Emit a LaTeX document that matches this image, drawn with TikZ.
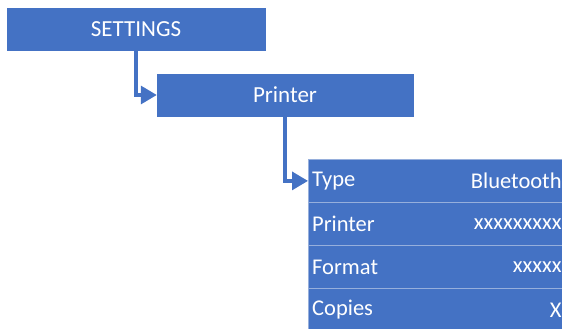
\documentclass[tikz,border=0pt]{standalone}
\usepackage{fontspec}
\setmainfont{Carlito}
\usepackage{tikz}
\usetikzlibrary{arrows.meta}

\definecolor{menublue}{RGB}{68,114,196}
\definecolor{rowline}{RGB}{150,175,220}

\tikzset{
	menubox/.style={fill=menublue, draw=menublue, minimum width=258pt, minimum height=42pt, inner sep=0pt, text=white, font=\fontsize{23}{27}\selectfont},
	rowbox/.style={fill=menublue, draw=rowline, line width=0.8pt, minimum width=256pt, minimum height=43pt, inner sep=0pt, anchor=north west},
	rowtext/.style={text=white, inner sep=0pt, font=\fontsize{22.5}{26}\selectfont},
	link/.style={draw=menublue, line width=3.2pt, -{Triangle[length=16pt,width=18pt]}}
}

\begin{document}
\begin{tikzpicture}[x=1pt, y=-1pt]
	\useasboundingbox (0,0) rectangle (562,329);

	\begin{scope}
		\node[menubox] (settings) at (136,29) {SETTINGS};
		\node[menubox, minimum width=256pt] (printer) at (285,95) {Printer};
	\end{scope}

	\begin{scope}
		\node[rowbox] (type) at (308,159) {};
		\node[rowbox] (device) at (308,202) {};
		\node[rowbox] (format) at (308,245) {};
		\node[rowbox] (copies) at (308,288) {};
	\end{scope}

	% keys on the left, values on the right
	\begin{scope}
		\node[rowtext, anchor=west] (typekey) at ([xshift=4pt]type.west) {Type};
		\node[rowtext, anchor=east] (typeval) at ([xshift=-3pt]type.east) {Bluetooth};
		\node[rowtext, anchor=west] (devicekey) at ([xshift=4pt]device.west) {Printer};
		\node[rowtext, anchor=east] (deviceval) at ([xshift=-3pt]device.east) {xxxxxxxxx};
		\node[rowtext, anchor=west] (formatkey) at ([xshift=4pt]format.west) {Format};
		\node[rowtext, anchor=east] (formatval) at ([xshift=-3pt]format.east) {xxxxx};
		\node[rowtext, anchor=west] (copieskey) at ([xshift=4pt]copies.west) {Copies};
		\node[rowtext, anchor=east] (copiesval) at ([xshift=-3pt]copies.east) {X};
	\end{scope}

	\begin{scope}
		\draw[link] (settings.south) |- (printer.west);
		\draw[link] (printer.south) |- (type.west);
	\end{scope}
\end{tikzpicture}
\end{document}
